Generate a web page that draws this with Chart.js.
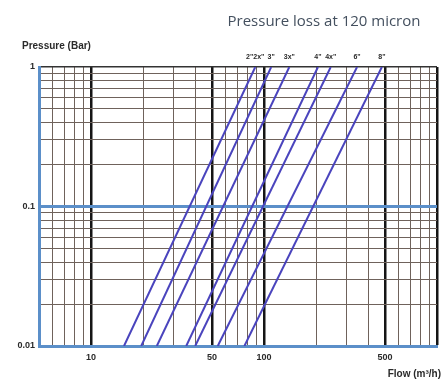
<!DOCTYPE html>
<html>
<head>
<meta charset="utf-8">
<script src="https://cdn.jsdelivr.net/npm/chart.js@4"></script>
<style>
  body { margin: 0; background: #ffffff; }
  canvas { display: block; }
</style>
</head>
<body>
<canvas id="lossChart" width="445" height="379"></canvas>
<script>
// Pressure loss curves, one per filter size
const sizes = ['2"2x"', '3"', '3x"', '4"', '4x"', '6"', '8"'];
const pressureEnds = [0.01, 1];                        // bar
const flowAtLow = [15.5, 19.5, 24, 35.5, 40, 54, 77];   // m3/h at 0.01 bar
const flowAtHigh = [89, 110, 140, 205, 243, 345, 480];  // m3/h at 1 bar

// Axis ticks / grid
const xGrid = [5, 6, 7, 8, 9, 10, 20, 30, 40, 50, 60, 70, 80, 90, 100, 200, 300, 400, 500, 600, 700, 800, 900, 1000];
const xLabels = [10, 50, 100, 500];
const xHeavy = [10, 50, 100, 500, 1000];
const yGrid = [0.01, 0.02, 0.03, 0.04, 0.05, 0.06, 0.07, 0.08, 0.09, 0.1, 0.2, 0.3, 0.4, 0.5, 0.6, 0.7, 0.8, 0.9, 1];
const yLabels = [0.01, 0.1, 1];

const colors = {
  line: '#4a44bd',
  grid: '#6f625b',
  heavy: '#151515',
  axis: '#5b8fc9',
  text: '#2a2a2a',
  title: '#44505f'
};

const tickFont = { family: '"Liberation Sans", Arial, sans-serif', size: 9, weight: 'bold' };

const near = (a, b) => Math.abs(a - b) < 1e-9 * Math.max(1, b);

const datasets = sizes.map((name, i) => ({
  label: name,
  data: [
    { x: flowAtLow[i], y: pressureEnds[0] },
    { x: flowAtHigh[i], y: pressureEnds[1] }
  ],
  borderColor: colors.line,
  borderWidth: 2,
  pointRadius: 0,
  tension: 0
}));

// texts outside the plot area
const labelsPlugin = {
  id: 'labels',
  afterDraw(chart) {
    const ctx = chart.ctx;
    const xs = chart.scales.x;
    ctx.save();
    ctx.fillStyle = colors.title;
    ctx.font = '15px "Open Sans", sans-serif';
    ctx.textAlign = 'center';
    ctx.textBaseline = 'middle';
    ctx.fillText('Pressure loss at 120 micron', 324, 22);

    ctx.fillStyle = colors.text;
    ctx.font = 'bold 10px "Liberation Sans", Arial, sans-serif';
    ctx.textAlign = 'left';
    ctx.fillText('Pressure (Bar)', 22, 46);
    ctx.textAlign = 'right';
    ctx.fillText('Flow (m³/h)', 441, 374);

    ctx.font = 'bold 7px "Liberation Sans", Arial, sans-serif';
    ctx.textAlign = 'center';
    sizes.forEach((name, i) => {
      ctx.fillText(name, xs.getPixelForValue(flowAtHigh[i]), 57);
    });
    ctx.restore();
  }
};

new Chart(document.getElementById('lossChart'), {
  type: 'line',
  data: { datasets },
  options: {
    responsive: false,
    animation: false,
    devicePixelRatio: 1,
    layout: { padding: { top: 67, right: 8, left: 0, bottom: 0 } },
    plugins: {
      legend: { display: false },
      tooltip: { enabled: false }
    },
    scales: {
      x: {
        type: 'logarithmic',
        min: 5,
        max: 1000,
        afterBuildTicks: axis => { axis.ticks = xGrid.map(v => ({ value: v })); },
        afterFit: axis => { axis.height = 33; },
        ticks: {
          autoSkip: false,
          maxRotation: 0,
          padding: 6,
          color: colors.text,
          font: tickFont,
          callback: v => (xLabels.some(l => near(v, l)) ? String(v) : '')
        },
        grid: {
          drawTicks: false,
          color: c => (c.tick && xHeavy.some(l => near(c.tick.value, l)) ? colors.heavy : colors.grid),
          lineWidth: c => (c.tick && xHeavy.some(l => near(c.tick.value, l)) ? 2.5 : 1)
        },
        border: { color: colors.axis, width: 3 }
      },
      y: {
        type: 'logarithmic',
        min: 0.01,
        max: 1,
        afterBuildTicks: axis => { axis.ticks = yGrid.map(v => ({ value: v })); },
        afterFit: axis => { axis.width = 39; },
        ticks: {
          autoSkip: false,
          padding: 4,
          color: colors.text,
          font: tickFont,
          callback: v => (yLabels.some(l => near(v, l)) ? String(v) : '')
        },
        grid: {
          drawTicks: false,
          color: c => (c.tick && near(c.tick.value, 0.1) ? colors.axis : (c.tick && near(c.tick.value, 1) ? '#333333' : colors.grid)),
          lineWidth: c => (c.tick && near(c.tick.value, 0.1) ? 3 : (c.tick && near(c.tick.value, 1) ? 1.5 : 1))
        },
        border: { color: colors.axis, width: 3 }
      }
    }
  },
  plugins: [labelsPlugin]
});
</script>
</body>
</html>
